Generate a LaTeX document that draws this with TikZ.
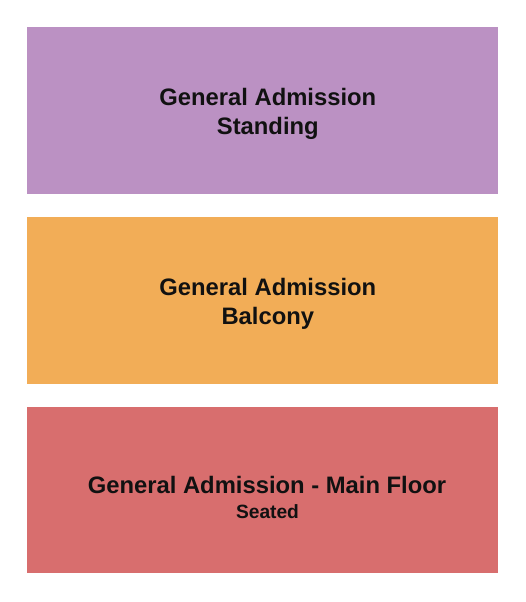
\documentclass[tikz,border=0pt]{standalone}
\usepackage{fontspec}
\setmainfont{Liberation Sans}
\definecolor{gapurple}{HTML}{BB91C3}
\definecolor{gaorange}{HTML}{F2AD57}
\definecolor{gared}{HTML}{D86E6E}
\definecolor{labelink}{HTML}{111111}
\tikzset{
  section/.style={draw=none},
  bigtext/.style={anchor=base, inner sep=0pt, text=labelink, font=\bfseries\fontsize{23.8}{28}\selectfont},
  smalltext/.style={anchor=base, inner sep=0pt, text=labelink, font=\bfseries\fontsize{19.2}{22}\selectfont}
}
\begin{document}
\begin{tikzpicture}[x=1pt,y=-1pt]
\useasboundingbox[fill=white] (0,0) rectangle (525,602);
\fill[gapurple] (27,27) rectangle (498,194);
\fill[gaorange] (27,217) rectangle (498,384);
\fill[gared] (27,407) rectangle (498,573);
\node[bigtext] (s1) at (267.8,105.7) {General Admission};
\node[bigtext] (s2) at (267.8,134.4) {Standing};
\node[bigtext] (b1) at (267.8,295.7) {General Admission};
\node[bigtext] (b2) at (267.8,324.4) {Balcony};
\node[bigtext] (m1) at (267.0,493.0) {General Admission - Main Floor};
\node[smalltext] (m2) at (267.5,518.2) {Seated};
\end{tikzpicture}
\end{document}
